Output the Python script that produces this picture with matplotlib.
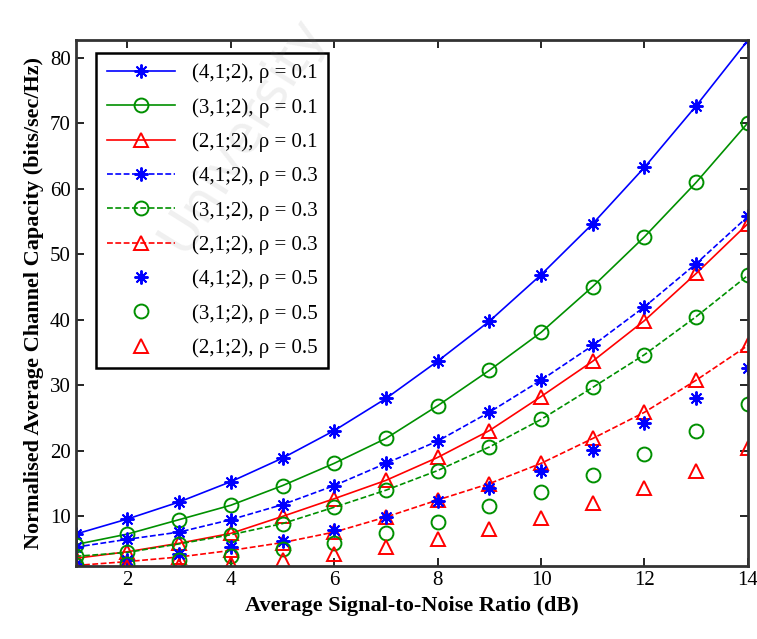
import matplotlib
matplotlib.use("Agg")
from matplotlib import pyplot as plt

snr = [1, 2, 3, 4, 5, 6, 7, 8, 9, 10, 11, 12, 13, 14]

# rho = 0.1
cap_4_01 = [7.3, 9.6, 12.2, 15.3, 18.9, 23.1, 28.0, 33.7, 39.8, 46.9, 54.7, 63.3, 72.7, 82.7]
cap_3_01 = [5.7, 7.3, 9.5, 11.7, 14.7, 18.1, 21.9, 26.9, 32.3, 38.1, 45.1, 52.7, 61.0, 70.1]
cap_2_01 = [3.6, 4.6, 5.9, 7.4, 10.0, 12.7, 15.5, 19.0, 23.1, 28.3, 33.7, 39.9, 47.1, 54.7]
# rho = 0.3
cap_4_03 = [5.3, 6.5, 7.6, 9.5, 11.8, 14.7, 18.1, 21.5, 25.9, 30.8, 36.1, 42.0, 48.6, 55.8]
cap_3_03 = [3.9, 4.5, 5.8, 7.2, 8.9, 11.4, 14.0, 17.0, 20.6, 24.8, 29.7, 34.7, 40.5, 46.8]
cap_2_03 = [2.5, 3.1, 3.8, 4.8, 6.0, 7.6, 9.9, 12.5, 15.0, 18.1, 21.9, 25.9, 30.8, 36.1]
# rho = 0.5
cap_4_05 = [2.8, 3.3, 4.3, 5.3, 6.3, 7.9, 9.9, 12.3, 14.3, 17.0, 20.2, 24.2, 28.0, 32.6]
cap_3_05 = [2.5, 2.8, 3.3, 4.0, 5.0, 5.9, 7.4, 9.1, 11.6, 13.7, 16.3, 19.6, 23.1, 27.1]
cap_2_05 = [2.0, 2.2, 2.4, 2.8, 3.3, 4.3, 5.3, 6.6, 8.0, 9.8, 12.0, 14.3, 17.0, 20.4]

plt.rcParams['font.family'] = ['Liberation Serif', 'DejaVu Serif']

fig = plt.figure(figsize=(7.57, 6.39), dpi=100)
ax = fig.add_axes([0.100, 0.114, 0.888, 0.823])

star = (8, 2, 0)
blue = '#0000ff'
green = '#009000'
red = '#ff0000'
dash = (3.5, 1.5)
ms = 10
mew = 1.4

ax.plot(snr, cap_4_01, color=blue, marker=star, ms=ms, mew=mew, lw=1.2, label='(4,1;2), ρ = 0.1')
ax.plot(snr, cap_3_01, color=green, marker='o', mfc='none', ms=ms, mew=mew, lw=1.2, label='(3,1;2), ρ = 0.1')
ax.plot(snr, cap_2_01, color=red, marker='^', mfc='none', ms=ms, mew=mew, lw=1.2, label='(2,1;2), ρ = 0.1')
ax.plot(snr, cap_4_03, color=blue, marker=star, ms=ms, mew=mew, lw=1.2, ls='--', dashes=dash, label='(4,1;2), ρ = 0.3')
ax.plot(snr, cap_3_03, color=green, marker='o', mfc='none', ms=ms, mew=mew, lw=1.2, ls='--', dashes=dash, label='(3,1;2), ρ = 0.3')
ax.plot(snr, cap_2_03, color=red, marker='^', mfc='none', ms=ms, mew=mew, lw=1.2, ls='--', dashes=dash, label='(2,1;2), ρ = 0.3')
ax.plot(snr, cap_4_05, color=blue, marker=star, ms=ms, mew=mew, ls='none', label='(4,1;2), ρ = 0.5')
ax.plot(snr, cap_3_05, color=green, marker='o', mfc='none', ms=ms, mew=mew, ls='none', label='(3,1;2), ρ = 0.5')
ax.plot(snr, cap_2_05, color=red, marker='^', mfc='none', ms=ms, mew=mew, ls='none', label='(2,1;2), ρ = 0.5')

ax.set_xlim(1, 14)
ax.set_ylim(2.4, 82.7)
ax.set_xticks([2, 4, 6, 8, 10, 12, 14])
ax.set_yticks([10, 20, 30, 40, 50, 60, 70, 80])
ax.tick_params(axis='both', direction='in', top=True, right=True, labelsize=15, length=6, width=1.2)
for s in ax.spines.values():
    s.set_linewidth(2)
    s.set_color('#333333')

ax.set_xlabel('Average Signal-to-Noise Ratio (dB)', fontsize=16, fontweight='bold', labelpad=4)
ax.set_ylabel('Normalised Average Channel Capacity (bits/sec/Hz)', fontsize=16, fontweight='bold', labelpad=4)

leg = ax.legend(loc='upper left', fontsize=15, handlelength=3.3, labelspacing=0.7,
                borderpad=0.5, fancybox=False, edgecolor='black', framealpha=1,
                bbox_to_anchor=(0.015, 0.995))
leg.get_frame().set_linewidth(1.8)

# faint watermark
fig.text(0.32, 0.79, 'University', fontsize=38, color='#808080', alpha=0.12, rotation=58,
         ha='center', va='center', family='DejaVu Sans', zorder=10)

fig.savefig('out.png', dpi=100)
